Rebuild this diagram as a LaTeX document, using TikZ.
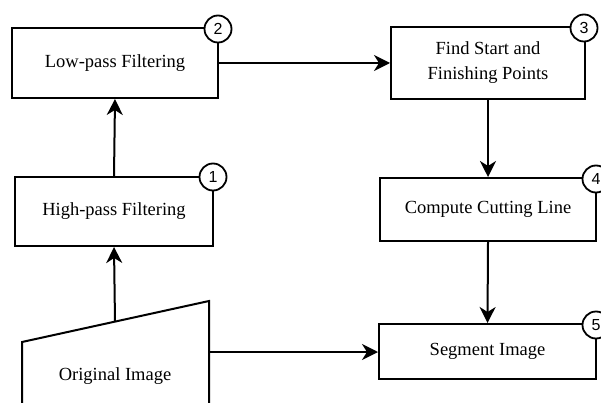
\documentclass[tikz,border=0pt]{standalone}
\usepackage{fontspec}
\setmainfont{Liberation Serif}
\newfontfamily\numfont{Liberation Sans}
\usetikzlibrary{arrows.meta}
\begin{document}
\begin{tikzpicture}[x=1pt,y=-1pt,
  stepbox/.style={draw, line width=2pt, fill=white, inner sep=0pt, align=center, font=\fontsize{18.5}{25}\selectfont},
  numcirc/.style={draw, circle, line width=1.8pt, fill=white, minimum size=27pt, inner sep=0pt, font=\numfont\fontsize{16}{16}\selectfont},
  arr/.style={line width=2pt, -{Stealth[length=16pt,width=16pt,inset=5pt]}},
  ln/.style={line width=2pt}]
\useasboundingbox (0,0) rectangle (601,403);
\clip (0,0) rectangle (601,403);
\fill[white] (0,0) rectangle (601,403);
% boxes
\node[stepbox, minimum width=206pt, minimum height=70pt] (b2) at (115,63) {Low-pass Filtering};
\node[stepbox, minimum width=194pt, minimum height=72pt] (b3) at (488,63) {Find Start and\\Finishing Points};
\node[stepbox, minimum width=198pt, minimum height=69pt] (b1) at (114,211.5) {High-pass Filtering};
\node[stepbox, minimum width=216pt, minimum height=63pt] (b4) at (488,209.5) {Compute Cutting Line};
\node[stepbox, minimum width=217pt, minimum height=55pt] (b5) at (487.5,351.5) {Segment Image};
% original image (manual trapezoid)
\draw[ln, fill=white] (22,410) -- (22,342) -- (209,301) -- (209,410);
\node[font=\fontsize{18.5}{23}\selectfont] (orig) at (115,376) {Original Image};
\coordinate (origtop) at (115,321.6);
\coordinate (origright) at (209,352);
% number circles
\node[numcirc] (c2) at (218,29) {2};
\node[numcirc] (c3) at (584,28) {3};
\node[numcirc] (c1) at (213,177) {1};
\node[numcirc] (c4) at (596,179) {4};
\node[numcirc] (c5) at (596,325) {5};
% connectors
\draw[arr] (origtop) -- (b1.south);
\draw[arr] (b1.north) -- (b2.south);
\draw[arr] (b2.east) -- (b3.west);
\draw[arr] (b3.south) -- (b4.north);
\draw[arr] (b4.south) -- (b5.north);
\draw[arr] (origright) -- (origright -| b5.west);
\end{tikzpicture}
\end{document}
